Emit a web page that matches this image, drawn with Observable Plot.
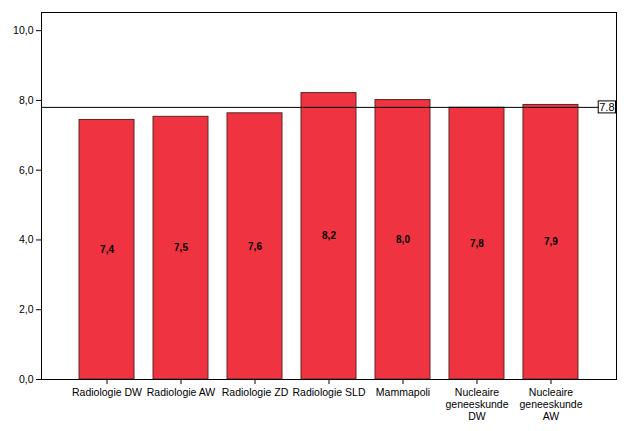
<!DOCTYPE html>
<html>
<head>
<meta charset="utf-8">
<script src="https://cdn.jsdelivr.net/npm/d3@7"></script>
<script src="https://cdn.jsdelivr.net/npm/@observablehq/plot@0.6"></script>
<style>
  body { margin: 0; background: #fff; }
  #chart svg { display: block; }
</style>
</head>
<body>
<div id="chart"></div>
<script>
const categories = ["Radiologie DW", "Radiologie AW", "Radiologie ZD", "Radiologie SLD", "Mammapoli", "Nucleaire\ngeneeskunde\nDW", "Nucleaire\ngeneeskunde\nAW"];
const values = [7.44, 7.53, 7.63, 8.21, 8.01, 7.79, 7.87];
const valueLabels = ["7,4", "7,5", "7,6", "8,2", "8,0", "7,8", "7,9"];
const referenceValue = 7.8;
const referenceLabel = "7.8";
const yTicks = [0, 2, 4, 6, 8, 10];

const data = categories.map((c, i) => ({cat: c, value: values[i], label: valueLabels[i]}));
const fmt = d => d.toFixed(1).replace(".", ",");

const plot = Plot.plot({
  width: 629,
  height: 431,
  marginLeft: 41,
  marginRight: 13,
  marginTop: 12,
  marginBottom: 52,
  style: {fontFamily: "'Liberation Sans', Arial, sans-serif", fontSize: "10.5px", background: "#fff", color: "#000"},
  x: {domain: categories, paddingInner: 0.257, paddingOuter: 0.514, round: false, label: null},
  y: {domain: [0, 10.52], label: null},
  marks: [
    Plot.barY(data, {x: "cat", y: "value", fill: "#ef3340", stroke: "#5e2424", strokeWidth: 1}),
    Plot.text(data, {x: "cat", y: d => d.value / 2, text: "label", fontWeight: "bold", fontSize: 10, fill: "#000"}),
    Plot.ruleY([referenceValue], {stroke: "#000", strokeWidth: 1, insetRight: 16}),
    Plot.text([referenceLabel], {frameAnchor: "right", y: () => referenceValue, text: d => d, textAnchor: "end", dx: -2, fontSize: 11, fill: "#000", className: "reflabel"}),
    Plot.axisY({ticks: yTicks, tickFormat: fmt, tickSize: 5, tickPadding: 3, fontSize: 10.5, label: null}),
    Plot.axisX({tickSize: 5, tickPadding: 3, fontSize: 10.5, lineHeight: 1.15, label: null}),
    Plot.frame({stroke: "#000", strokeWidth: 1})
  ]
});
document.getElementById("chart").appendChild(plot);

// add a white box with border behind the reference label
const t = plot.querySelector("g.reflabel text") || plot.querySelector(".reflabel text");
if (t) {
  const bb = t.getBBox();
  const ns = "http://www.w3.org/2000/svg";
  const r = document.createElementNS(ns, "rect");
  r.setAttribute("x", bb.x - 1);
  r.setAttribute("y", bb.y);
  r.setAttribute("width", bb.width + 2);
  r.setAttribute("height", bb.height);
  r.setAttribute("fill", "#fff");
  r.setAttribute("stroke", "#000");
  r.setAttribute("stroke-width", 1);
  r.setAttribute("transform", t.getAttribute("transform") || "");
  t.parentNode.insertBefore(r, t);
}
</script>
</body>
</html>
